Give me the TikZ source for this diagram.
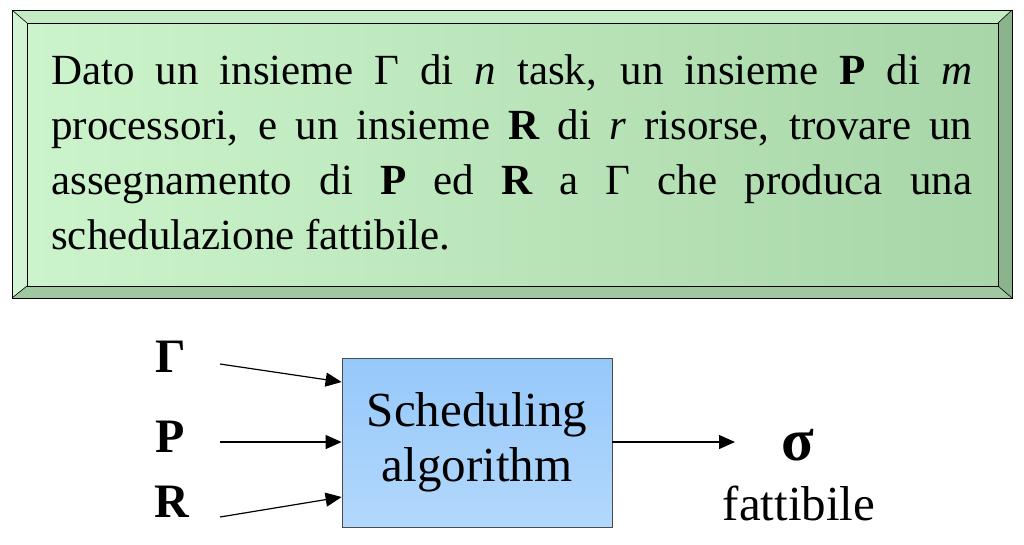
\documentclass[tikz,border=0pt]{standalone}
\usepackage{fontspec}
\setmainfont{Liberation Serif}
\newfontfamily\tnr{Liberation Serif}
\usetikzlibrary{arrows.meta}
\definecolor{facel}{RGB}{204,244,204}
\definecolor{facer}{RGB}{168,214,168}
\definecolor{bevtop}{RGB}{196,236,196}
\definecolor{bevleft}{RGB}{210,244,210}
\definecolor{bevright}{RGB}{140,180,140}
\definecolor{bevbot}{RGB}{160,200,160}
\definecolor{blueT}{RGB}{150,200,250}
\definecolor{blueB}{RGB}{178,216,252}
\tikzset{
  every node/.style={font=\tnr},
  bev/.style={draw=black, line width=0.8pt, line join=miter},
  arr/.style={-{Triangle[length=16pt,width=14pt]}, line width=1.2pt},
  sym/.style={font=\tnr\fontsize{48}{50}\selectfont\bfseries, inner sep=0pt},
}
\begin{document}
\begin{tikzpicture}[x=1pt,y=-1pt]
\useasboundingbox (0,0) rectangle (1024,544);
\fill[white] (0,0) rectangle (1024,544);
% bevelled box
\coordinate (o1) at (12,10); \coordinate (o2) at (1012,10);
\coordinate (o3) at (1012,298); \coordinate (o4) at (12,298);
\coordinate (i1) at (27,23); \coordinate (i2) at (998,23);
\coordinate (i3) at (998,286); \coordinate (i4) at (27,286);
\path[left color=facel, right color=facer] (i1) rectangle (i3);
\fill[bevtop] (o1) -- (o2) -- (i2) -- (i1) -- cycle;
\fill[bevleft] (o1) -- (i1) -- (i4) -- (o4) -- cycle;
\fill[bevright] (o2) -- (o3) -- (i3) -- (i2) -- cycle;
\fill[bevbot] (o4) -- (i4) -- (i3) -- (o3) -- cycle;
\draw[bev] (o1) rectangle (o3);
\draw[bev, line width=0.6pt] (i1) rectangle (i3);
\draw[bev, line width=0.6pt] (o1) -- (i1) (o2) -- (i2) (o3) -- (i3) (o4) -- (i4);
\node[anchor=north west, inner sep=0pt, text width=921pt, align=justify,
      font=\tnr\fontsize{43}{55}\selectfont] (txt) at (51,54)
  {Dato un insieme Γ di \textit{n} task, un insieme \textbf{P} di \textit{m}\linebreak
   processori, e un insieme \textbf{R} di \textit{r} risorse, trovare un\linebreak
   assegnamento di \textbf{P} ed \textbf{R} a Γ che produca una\linebreak
   schedulazione fattibile.};
% diagram
\node[draw=black!70, line width=0.8pt, top color=blueT, bottom color=blueB,
      minimum width=270pt, minimum height=169pt, inner sep=0pt,
      align=center, font=\tnr\fontsize{49}{55}\selectfont] (alg) at (477,442.5)
  {Scheduling\\algorithm};
\node[sym, anchor=base] (G) at (171,372) {Γ};
\node[sym, anchor=base] (P) at (170,452) {P};
\node[sym, anchor=base] (R) at (172,517) {R};
\coordinate (gs) at (220,364);
\coordinate (ps) at (220,442);
\coordinate (rs) at (220,517);
\draw[arr] (gs) -- (alg.west |- 0,382);
\draw[arr] (ps) -- (alg.west |- 0,442);
\draw[arr] (rs) -- (alg.west |- 0,497);
\node[inner sep=0pt, anchor=base, font=\tnr\fontsize{60}{60}\selectfont\bfseries] (sig) at (798,460) {σ};
\node[inner sep=0pt, anchor=base, font=\tnr\fontsize{49}{55}\selectfont] (fat) at (799,520) {fattibile};
\coordinate (oe) at (735,442);
\draw[arr] (alg.east |- 0,442) -- (oe);
\end{tikzpicture}
\end{document}
